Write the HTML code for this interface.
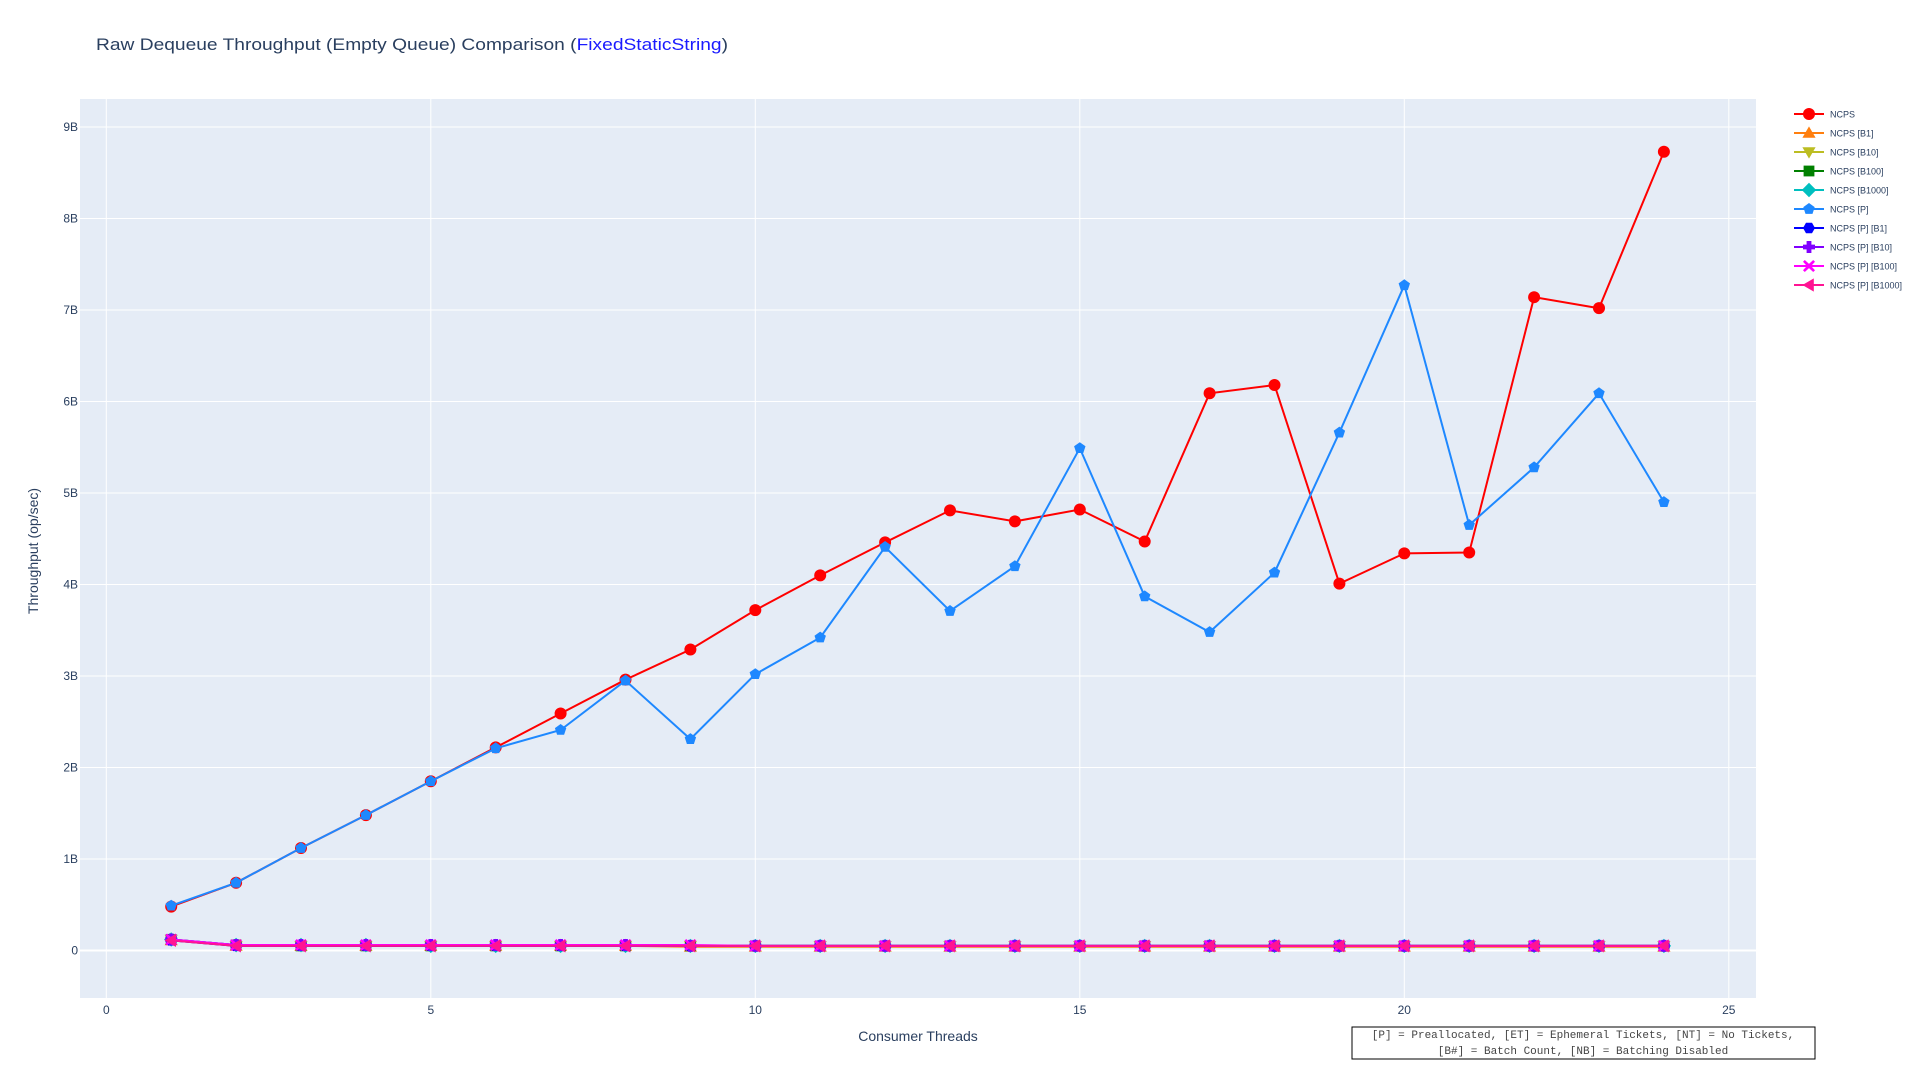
<!DOCTYPE html>
<html><head><meta charset="utf-8"><style>
body{margin:0;background:#fff;font-family:"Liberation Sans",sans-serif}
svg{display:block}
</style></head><body>
<svg id="chart" width="1920" height="1080" xmlns="http://www.w3.org/2000/svg">
<rect width="1920" height="1080" fill="#fff"/>
<text x="96" y="50" font-size="17" textLength="632" lengthAdjust="spacingAndGlyphs" fill="#2a3f5f">Raw Dequeue Throughput (Empty Queue) Comparison (<tspan fill="#1a1aff">FixedStaticString</tspan>)</text>
<rect x="80" y="99" width="1676" height="899" fill="#e5ecf6"/>
<g id="grid"></g><g id="series"></g><g id="axes"></g>
<text transform="translate(38,551) rotate(-90)" text-anchor="middle" font-size="14" fill="#2a3f5f">Throughput (op/sec)</text>
<text x="918" y="1041" text-anchor="middle" font-size="14" fill="#2a3f5f">Consumer Threads</text>
<g>
<rect x="1352" y="1027" width="463" height="32" fill="#fff" stroke="#000" stroke-width="1"/>
<text x="1583" y="1038" text-anchor="middle" font-family="Liberation Mono,monospace" font-size="11" fill="#444">[P] = Preallocated, [ET] = Ephemeral Tickets, [NT] = No Tickets,</text>
<text x="1583" y="1054" text-anchor="middle" font-family="Liberation Mono,monospace" font-size="11" fill="#444">[B#] = Batch Count, [NB] = Batching Disabled</text>
</g>
<g id="legend"></g>
</svg>
<script>
const threads=[1,2,3,4,5,6,7,8,9,10,11,12,13,14,15,16,17,18,19,20,21,22,23,24];
const ncps=[0.48,0.74,1.12,1.48,1.85,2.22,2.59,2.96,3.29,3.72,4.10,4.46,4.81,4.69,4.82,4.47,6.09,6.18,4.01,4.34,4.35,7.14,7.02,8.73];
const ncpsP=[0.49,0.74,1.12,1.48,1.85,2.21,2.41,2.95,2.31,3.02,3.42,4.41,3.71,4.20,5.49,3.87,3.48,4.13,5.66,7.27,4.65,5.28,6.09,4.90];
const lowB1=[0.11,0.05,0.05,0.05,0.05,0.05,0.05,0.05,0.04,0.04,0.04,0.04,0.04,0.04,0.04,0.04,0.04,0.04,0.04,0.04,0.04,0.04,0.04,0.04];
const lowB10=[0.12,0.05,0.05,0.05,0.05,0.05,0.05,0.05,0.05,0.05,0.05,0.05,0.05,0.05,0.05,0.05,0.05,0.05,0.05,0.05,0.05,0.05,0.05,0.05];
const lowB100=[0.12,0.06,0.05,0.05,0.05,0.05,0.05,0.05,0.05,0.05,0.05,0.05,0.05,0.05,0.05,0.05,0.05,0.05,0.05,0.05,0.05,0.05,0.05,0.05];
const lowB1000=[0.12,0.06,0.06,0.06,0.05,0.05,0.05,0.05,0.05,0.05,0.05,0.05,0.05,0.05,0.05,0.05,0.05,0.05,0.05,0.05,0.05,0.05,0.05,0.05];
const lowPB1=[0.11,0.05,0.05,0.05,0.05,0.05,0.05,0.05,0.05,0.05,0.05,0.05,0.05,0.05,0.05,0.05,0.05,0.05,0.05,0.05,0.05,0.05,0.05,0.05];
const lowPB10=[0.12,0.06,0.06,0.06,0.06,0.06,0.06,0.06,0.05,0.05,0.05,0.05,0.05,0.05,0.05,0.05,0.05,0.05,0.05,0.05,0.05,0.05,0.05,0.05];
const lowPB100=[0.12,0.06,0.06,0.06,0.06,0.06,0.06,0.06,0.06,0.05,0.05,0.05,0.05,0.05,0.05,0.05,0.05,0.05,0.05,0.05,0.05,0.05,0.05,0.05];
const lowPB1000=[0.11,0.05,0.05,0.05,0.05,0.05,0.05,0.05,0.05,0.05,0.05,0.05,0.05,0.05,0.05,0.05,0.05,0.05,0.05,0.05,0.05,0.05,0.05,0.05];
const xTicks=[0,5,10,15,20,25];
const yTicks=[0,1,2,3,4,5,6,7,8,9];
const yTickLabels=["0","1B","2B","3B","4B","5B","6B","7B","8B","9B"];
const seriesNames=["NCPS","NCPS [B1]","NCPS [B10]","NCPS [B100]","NCPS [B1000]","NCPS [P]","NCPS [P] [B1]","NCPS [P] [B10]","NCPS [P] [B100]","NCPS [P] [B1000]"];
const seriesData=[ncps,lowB1,lowB10,lowB100,lowB1000,ncpsP,lowPB1,lowPB10,lowPB100,lowPB1000];
const colors=["#ff0000","#ff7f0e","#bcbd22","#008000","#00bfbf","#1e88ff","#0000ff","#8000ff","#ff00ff","#ff1493"];
const symbols=["circle","triangle-up","triangle-down","square","diamond","pentagon","hexagon","cross","x","triangle-left"];
const NS="http://www.w3.org/2000/svg";
const X=v=>106.3+v*64.9;
const Y=v=>950.5-v*91.5;
function mk(t,a,p){const e=document.createElementNS(NS,t);for(const k in a)e.setAttribute(k,a[k]);p.appendChild(e);return e;}
function markerPath(s,x,y,r){
 const pts=(arr)=>'M'+arr.map(p=>(x+p[0]*r).toFixed(1)+','+(y+p[1]*r).toFixed(1)).join('L')+'Z';
 const poly=(n,rot)=>{const a=[];for(let i=0;i<n;i++){const t=rot+i*2*Math.PI/n;a.push([Math.cos(t),Math.sin(t)]);}return pts(a);};
 switch(s){
 case"triangle-up":return pts([[0,-1.1],[1.1,0.8],[-1.1,0.8]]);
 case"triangle-down":return pts([[0,1.1],[1.1,-0.8],[-1.1,-0.8]]);
 case"triangle-left":return pts([[-1.1,0],[0.8,-1.1],[0.8,1.1]]);
 case"square":return pts([[-0.9,-0.9],[0.9,-0.9],[0.9,0.9],[-0.9,0.9]]);
 case"diamond":return pts([[0,-1.2],[1.2,0],[0,1.2],[-1.2,0]]);
 case"pentagon":return poly(5,-Math.PI/2);
 case"hexagon":return poly(6,0);
 case"cross":{const w=0.4;return pts([[-w,-1],[w,-1],[w,-w],[1,-w],[1,w],[w,w],[w,1],[-w,1],[-w,w],[-1,w],[-1,-w],[-w,-w]]);}
 case"x":{const w=0.35;const b=[[0,-w],[0.7,-1],[1,-0.7],[w,0],[1,0.7],[0.7,1],[0,w],[-0.7,1],[-1,0.7],[-w,0],[-1,-0.7],[-0.7,-1]];return pts(b);}
 default:return null;}
}
function drawMarker(g,s,x,y,r,c){
 if(s==="circle"){return mk('circle',{cx:x,cy:y,r:r,fill:c},g);}
 return mk('path',{d:markerPath(s,x,y,r),fill:c},g);
}
const grid=document.getElementById('grid'),axes=document.getElementById('axes');
xTicks.forEach(t=>{
 const l=mk('line',{x1:X(t),x2:X(t),y1:99,y2:998,stroke:'#fff','stroke-width':1},grid);
 
 const tx=mk('text',{x:X(t),y:1014,'text-anchor':'middle','font-size':12,fill:'#2a3f5f'},axes);tx.textContent=t;
 
});
yTicks.forEach((t,i)=>{
 const l=mk('line',{x1:80,x2:1756,y1:Y(t),y2:Y(t),stroke:'#fff','stroke-width':t===0?2:1},grid);
 
 const tx=mk('text',{x:78,y:Y(t)+4,'text-anchor':'end','font-size':12,fill:'#2a3f5f'},axes);tx.textContent=yTickLabels[i];
 
});
const sg=document.getElementById('series');
seriesNames.forEach((n,i)=>{
 const g=mk('g',{},sg);
 
 
 const d=seriesData[i].map((v,k)=>(k?'L':'M')+X(threads[k]).toFixed(1)+','+Y(v).toFixed(1)).join('');
 mk('path',{d:d,fill:'none',stroke:colors[i],'stroke-width':2},g);
 seriesData[i].forEach((v,k)=>{const m=drawMarker(g,symbols[i],X(threads[k]),Y(v),6,colors[i]);
  });
});
const lg=document.getElementById('legend');
seriesNames.forEach((n,i)=>{
 const y=114+i*19;
 const g=mk('g',{},lg);
 
 
 mk('line',{x1:1794,x2:1824,y1:y,y2:y,stroke:colors[i],'stroke-width':2},g);
 drawMarker(g,symbols[i],1809,y,6,colors[i]);
 const t=mk('text',{x:1830,y:y+3.5,'font-size':9,fill:'#2a3f5f'},g);t.textContent=n;
});
</script>
</body></html>
